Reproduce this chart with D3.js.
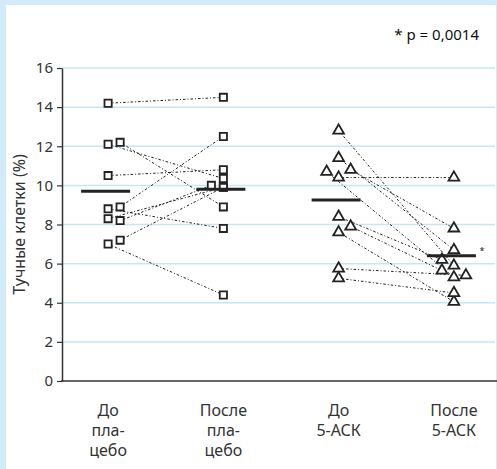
<!DOCTYPE html>
<html>
<head>
<meta charset="utf-8">
<script src="https://cdn.jsdelivr.net/npm/d3@7"></script>
<style>
  body { margin: 0; background: #fff; }
  svg { display: block; font-family: 'Noto Sans', sans-serif; }
</style>
</head>
<body>
<svg id="chart" width="497" height="469"></svg>
<script>
const categories = ['placeboBefore', 'placeboAfter', 'asaBefore', 'asaAfter'];
const categoryLabels = [['До', 'пла-', 'цебо'], ['После', 'пла-', 'цебо'], ['До', '5-АСК'], ['После', '5-АСК']];
const yTicks = [0, 2, 4, 6, 8, 10, 12, 14, 16];

// paired readings, same patient at the same index
const placeboBefore = [14.2, 12.1, 12.2, 10.5, 8.8, 8.9, 8.3, 8.2, 7.0, 7.2];
const placeboAfter = [14.5, 10.35, 8.9, 10.8, 7.8, 12.5, 9.9, 10.0, 4.4, 9.9];
const asaBefore = [12.8, 11.4, 10.4, 10.8, 10.7, 8.4, 7.6, 7.9, 5.75, 5.25];
const asaAfter = [5.9, 6.7, 10.4, 7.8, 5.3, 6.2, 4.05, 5.65, 5.4, 4.5];
const means = [9.7, 9.8, 9.25, 6.4];
const pLabel = '* p = 0,0014';
const yTitle = 'Тучные клетки (%)';

const svg = d3.select('#chart');
const W = 497, H = 469;

// light blue frame
svg.append('rect').attr('width', W).attr('height', H).attr('fill', '#d3ebf8');
svg.append('rect').attr('x', 6).attr('y', 5).attr('width', W - 7).attr('height', H - 5).attr('fill', '#fff');

const x = d3.scalePoint().domain(categories).range([62, 500]).padding(0.4);
const y = d3.scaleLinear().domain([0, 16]).range([381, 68]);
const left = 62, right = 495;

// grid
svg.append('g').selectAll('line')
  .data(yTicks.filter(d => d > 0))
  .enter().append('line')
  .attr('x1', left).attr('x2', right)
  .attr('y1', d => y(d)).attr('y2', d => y(d))
  .attr('stroke', '#c6e6f6').attr('stroke-width', 1.5);

// y axis
const yAxis = svg.append('g')
  .attr('transform', `translate(${left},0)`)
  .call(d3.axisLeft(y).tickValues(yTicks).tickSize(5).tickPadding(4).tickSizeOuter(0));
yAxis.select('.domain').attr('stroke', '#333').attr('stroke-width', 1.5);
yAxis.selectAll('.tick line').attr('stroke', '#333').attr('stroke-width', 1.2);
yAxis.selectAll('.tick text').attr('fill', '#333').style('font-size', '15px').style('font-family', "'Noto Sans', sans-serif");

// x axis line
svg.append('line')
  .attr('x1', left - 1).attr('x2', W)
  .attr('y1', y(0)).attr('y2', y(0))
  .attr('stroke', '#333').attr('stroke-width', 1.5);

// category labels
categoryLabels.forEach((lines, i) => {
  const t = svg.append('text')
    .attr('x', x(categories[i]))
    .attr('y', 416)
    .attr('text-anchor', 'middle')
    .attr('fill', '#333')
    .style('font-size', '16px');
  lines.forEach((s, j) => {
    t.append('tspan').attr('x', x(categories[i])).attr('dy', j === 0 ? 0 : 20).text(s);
  });
});

// y title
svg.append('text')
  .attr('transform', `translate(25,${(y(0) + y(16)) / 2}) rotate(-90)`)
  .attr('text-anchor', 'middle')
  .attr('fill', '#333')
  .style('font-size', '16px')
  .text(yTitle);

svg.append('text')
  .attr('x', 479).attr('y', 40)
  .attr('text-anchor', 'end')
  .attr('fill', '#111')
  .style('font-size', '15px')
  .text(pLabel);

// side-by-side shift for points that would overlap; exact ties simply overlap
const shift = 12;
function dodge(values, inward) {
  const placed = [];
  return values.map(v => {
    const py = y(v);
    for (const k of [0, inward, -inward]) {
      const hit = placed.some(p => p.k === k && Math.abs(p.py - py) > 0 && Math.abs(p.py - py) < 8);
      if (!hit) { placed.push({ k, py }); return k; }
    }
    return 0;
  });
}

const groups = [
  { before: placeboBefore, after: placeboAfter, cats: ['placeboBefore', 'placeboAfter'], symbol: d3.symbolSquare, size: 52 },
  { before: asaBefore, after: asaAfter, cats: ['asaBefore', 'asaAfter'], symbol: d3.symbolTriangle, size: 50 }
];

groups.forEach(g => {
  const kb = dodge(g.before, 1);
  const ka = dodge(g.after, -1);
  const pairs = g.before.map((b, i) => ({
    x0: x(g.cats[0]) + kb[i] * shift, y0: y(b),
    x1: x(g.cats[1]) + ka[i] * shift, y1: y(g.after[i])
  }));

  svg.append('g').selectAll('line')
    .data(pairs)
    .enter().append('line')
    .attr('x1', d => d.x0).attr('y1', d => d.y0)
    .attr('x2', d => d.x1).attr('y2', d => d.y1)
    .attr('stroke', '#222')
    .attr('stroke-width', 1)
    .attr('stroke-dasharray', '2.5,2,1,2');

  const pts = pairs.map(d => [d.x0, d.y0]).concat(pairs.map(d => [d.x1, d.y1]));
  svg.append('g').selectAll('path')
    .data(pts)
    .enter().append('path')
    .attr('d', d3.symbol().type(g.symbol).size(g.size))
    .attr('transform', d => `translate(${d[0]},${d[1]})`)
    .attr('fill', '#fff')
    .attr('stroke', '#222')
    .attr('stroke-width', 1.8);
});

// group means
svg.append('g').selectAll('line')
  .data(means)
  .enter().append('line')
  .attr('x1', (d, i) => x(categories[i]) - 27)
  .attr('x2', (d, i) => x(categories[i]) + 22)
  .attr('y1', d => y(d)).attr('y2', d => y(d))
  .attr('stroke', '#222').attr('stroke-width', 3);

// significance mark next to the 5-ASK mean
svg.append('text')
  .attr('x', x('asaAfter') + 28)
  .attr('y', y(means[3]) - 2)
  .attr('text-anchor', 'middle')
  .attr('fill', '#222')
  .style('font-size', '9px')
  .text('*');
</script>
</body>
</html>
